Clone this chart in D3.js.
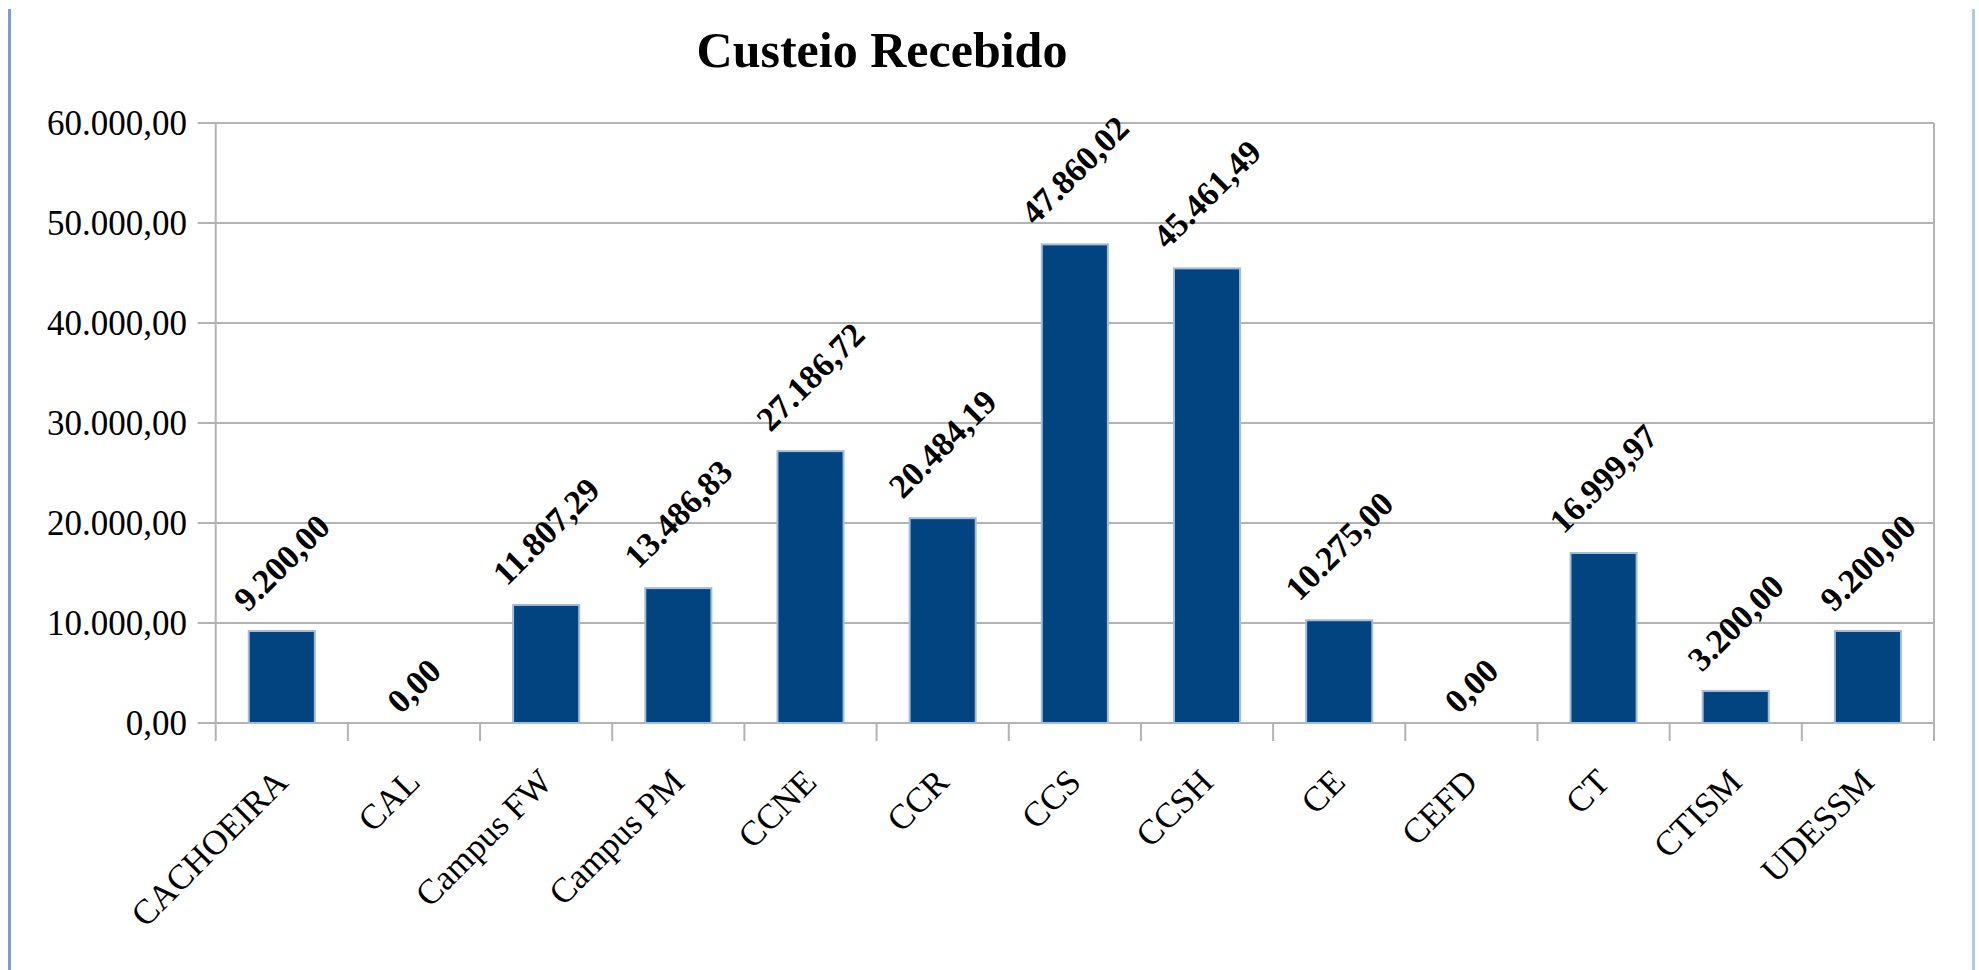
<!DOCTYPE html>
<html>
<head>
<meta charset="utf-8">
<script src="https://cdn.jsdelivr.net/npm/d3@7"></script>
<style>
	html, body { margin: 0; padding: 0; background: #fff; }
	svg { display: block; }
	text { font-family: "Liberation Serif", "Times New Roman", serif; fill: #000; }
</style>
</head>
<body>
<svg id="chart"></svg>
<script>
var titulo = 'Custeio Recebido';
var unidades = ['CACHOEIRA', 'CAL', 'Campus FW', 'Campus PM', 'CCNE', 'CCR', 'CCS', 'CCSH', 'CE', 'CEFD', 'CT', 'CTISM', 'UDESSM'];
var valores = [9200.00, 0.00, 11807.29, 13486.83, 27186.72, 20484.19, 47860.02, 45461.49, 10275.00, 0.00, 16999.97, 3200.00, 9200.00];
var ticksY = [0, 10000, 20000, 30000, 40000, 50000, 60000];

var width = 1979, height = 970;
var margem = { esq: 215.7, dir: 1934, topo: 123, base: 723 };
var gris = '#b3b3b3';

var svg = d3.select('#chart')
	.attr('width', width)
	.attr('height', height);

// formato brasileiro: 60.000,00
var br = d3.formatLocale({ decimal: ',', thousands: '.', grouping: [3], currency: ['R$', ''] });
var fmt = br.format(',.2f');

var x = d3.scaleBand().domain(unidades).range([margem.esq, margem.dir]).padding(0);
var y = d3.scaleLinear().domain([0, 60000]).range([margem.base, margem.topo]);

// bordas do quadro
svg.append('line')
	.attr('x1', 9.5).attr('x2', 9.5).attr('y1', 9).attr('y2', height)
	.attr('stroke', '#809dcc').attr('stroke-width', 3);
svg.append('line')
	.attr('x1', 1973.5).attr('x2', 1973.5).attr('y1', 9).attr('y2', height)
	.attr('stroke', '#b4c7e7').attr('stroke-width', 3);

// titulo
svg.append('text')
	.attr('x', 882)
	.attr('y', 67)
	.attr('text-anchor', 'middle')
	.style('font-size', '50px')
	.style('font-weight', 'bold')
	.text(titulo);

// grade horizontal
svg.append('g')
	.selectAll('line')
	.data(ticksY)
	.enter().append('line')
	.attr('x1', margem.esq - 18)
	.attr('x2', margem.dir)
	.attr('y1', function(d) { return y(d); })
	.attr('y2', function(d) { return y(d); })
	.attr('stroke', gris)
	.attr('stroke-width', 2);

// eixo vertical e linha da direita
svg.append('line')
	.attr('x1', margem.esq).attr('x2', margem.esq).attr('y1', margem.topo).attr('y2', margem.base + 18)
	.attr('stroke', gris).attr('stroke-width', 2);
svg.append('line')
	.attr('x1', margem.dir).attr('x2', margem.dir).attr('y1', margem.topo).attr('y2', margem.base + 18)
	.attr('stroke', gris).attr('stroke-width', 2);

// marcas do eixo x nas divisas das categorias
svg.append('g')
	.selectAll('line')
	.data(unidades.slice(1))
	.enter().append('line')
	.attr('x1', function(d) { return x(d); })
	.attr('x2', function(d) { return x(d); })
	.attr('y1', margem.base)
	.attr('y2', margem.base + 18)
	.attr('stroke', gris)
	.attr('stroke-width', 2);

// rotulos eixo y
svg.append('g')
	.selectAll('text')
	.data(ticksY)
	.enter().append('text')
	.attr('x', 187)
	.attr('y', function(d) { return y(d); })
	.attr('text-anchor', 'end')
	.attr('dominant-baseline', 'central')
	.style('font-size', '35px')
	.text(function(d) { return fmt(d); });

// barras
var bw = x.bandwidth() / 2;
svg.append('g')
	.selectAll('rect')
	.data(valores)
	.enter().append('rect')
	.attr('x', function(d, i) { return x(unidades[i]) + bw / 2; })
	.attr('y', function(d) { return y(d); })
	.attr('width', bw)
	.attr('height', function(d) { return margem.base - y(d); })
	.attr('fill', '#02447f')
	.attr('stroke', function(d) { return d > 0 ? '#a5bcd9' : 'none'; })
	.attr('stroke-width', 2);

// rotulos eixo x
svg.append('g')
	.selectAll('text')
	.data(unidades)
	.enter().append('text')
	.attr('text-anchor', 'end')
	.attr('transform', function(d) {
		var cx = x(d) + x.bandwidth() / 2 + 8, cy = 784;
		return 'translate(' + cx + ',' + cy + ') rotate(-45)';
	})
	.style('font-size', '35px')
	.text(function(d) { return d; });

// rotulos de valor
var fs = 34;
svg.append('g')
	.selectAll('text')
	.data(valores)
	.enter().append('text')
	.attr('text-anchor', 'middle')
	.attr('dominant-baseline', 'central')
	.style('font-size', fs + 'px')
	.style('font-weight', 'bold')
	.text(function(d) { return fmt(d); })
	.attr('transform', function(d, i) {
		var w = this.getComputedTextLength();
		var h = 0.68 * fs;
		var gap = d > 0 ? 18 : 8;
		var cx = x(unidades[i]) + x.bandwidth() / 2;
		var cy = y(d) - gap - (w + h) * 0.7071 / 2;
		return 'translate(' + cx + ',' + cy + ') rotate(-45)';
	});
</script>
</body>
</html>
